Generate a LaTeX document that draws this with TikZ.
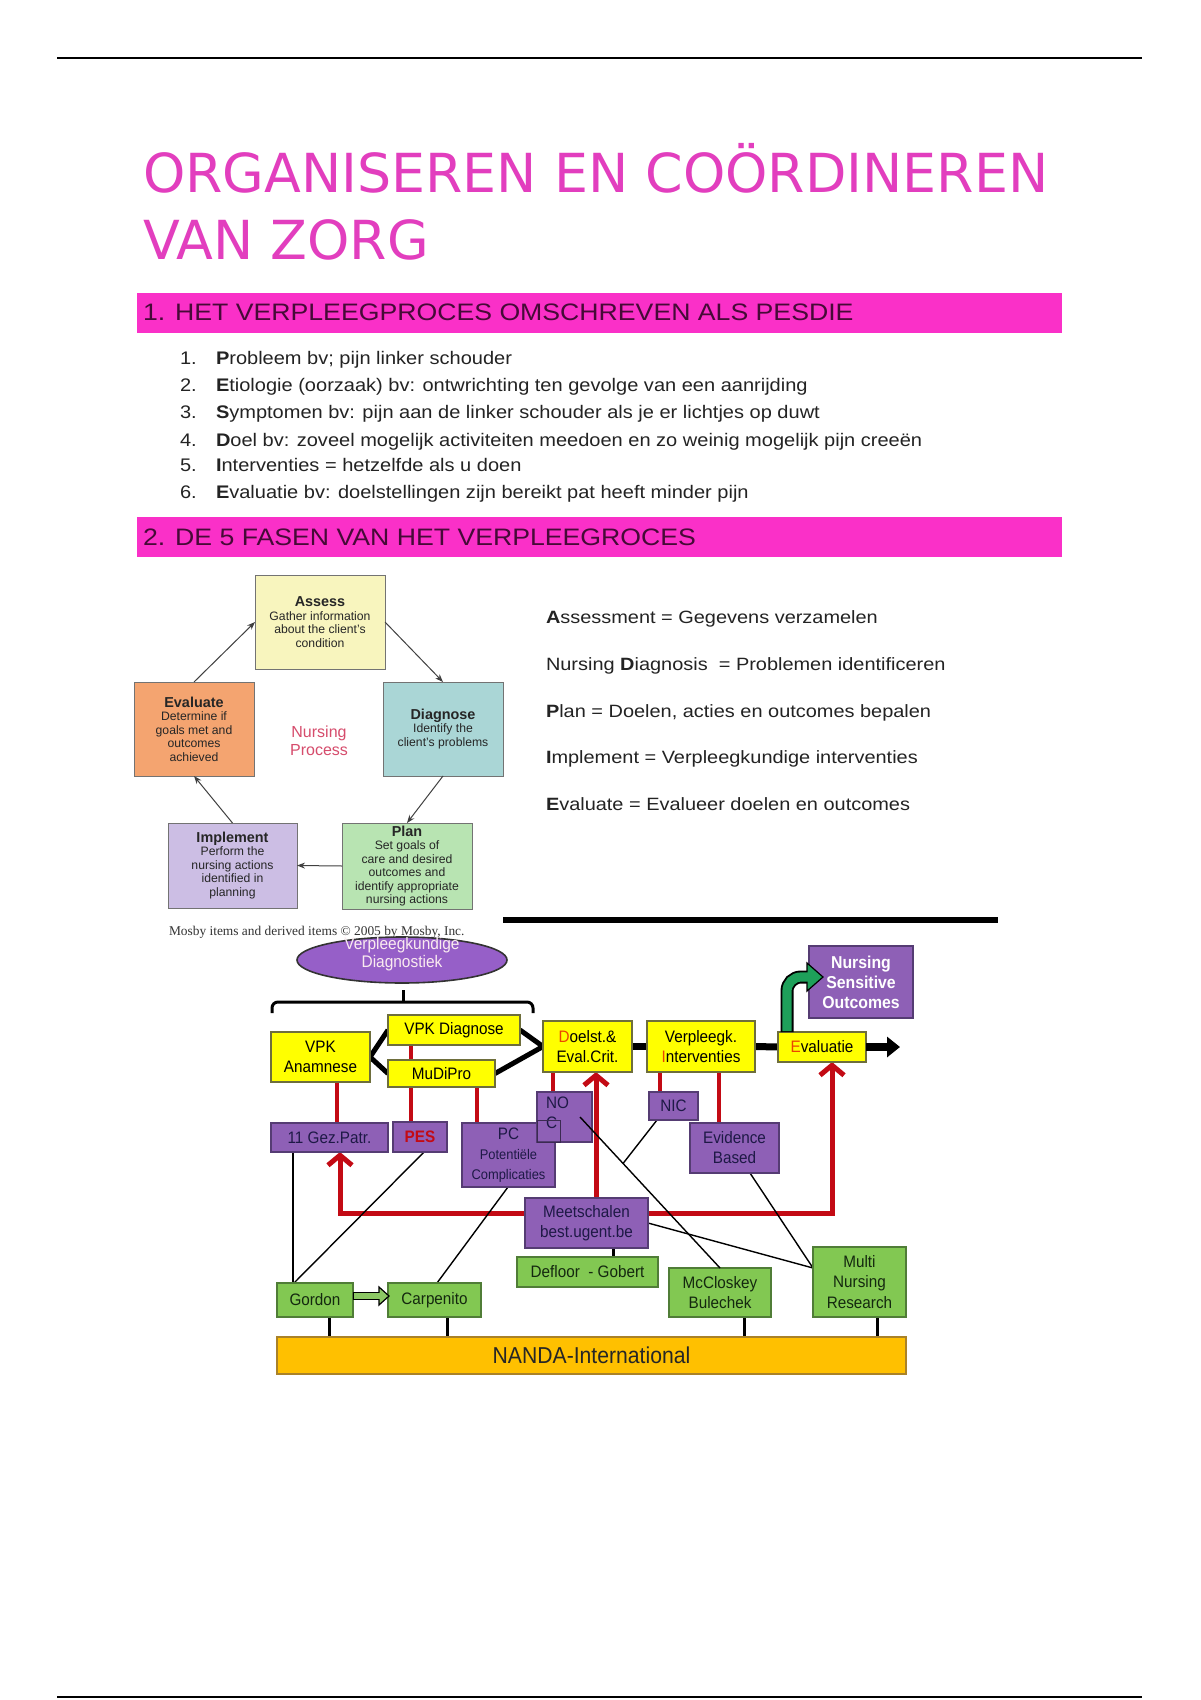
\documentclass[tikz,border=0pt]{standalone}
\usepackage{fontspec}
\setmainfont{Liberation Sans}
\newfontfamily\titlef{DejaVu Sans}
\newfontfamily\widef[FakeStretch=1.12]{Liberation Sans}
\newfontfamily\listf[FakeStretch=1.10]{Liberation Sans}
\newfontfamily\diagf[FakeStretch=0.92]{Liberation Sans}
\newfontfamily\capf{Liberation Serif}
\usetikzlibrary{arrows.meta,calc,shapes.geometric}
\pgfdeclarelayer{bg}
\pgfsetlayers{bg,main}
\definecolor{pinkbar}{RGB}{250,48,200}
\definecolor{ttl}{RGB}{226,62,190}
\definecolor{hdr}{RGB}{70,10,55}
\definecolor{txt}{RGB}{35,35,35}
\definecolor{cyy}{RGB}{248,245,190}
\definecolor{cyd}{RGB}{170,214,214}
\definecolor{cyp}{RGB}{184,228,178}
\definecolor{cyi}{RGB}{204,190,228}
\definecolor{cye}{RGB}{244,164,112}
\definecolor{nproc}{RGB}{214,76,108}
\definecolor{yel}{RGB}{255,255,0}
\definecolor{ybord}{RGB}{110,110,60}
\definecolor{purp}{RGB}{142,96,182}
\definecolor{pbord}{RGB}{85,60,115}
\definecolor{navyt}{RGB}{30,25,70}
\definecolor{grn}{RGB}{130,200,82}
\definecolor{gbord}{RGB}{80,125,55}
\definecolor{dgreen}{RGB}{20,40,15}
\definecolor{nanda}{RGB}{255,192,0}
\definecolor{nbord}{RGB}{170,130,40}
\definecolor{dred}{RGB}{195,10,20}
\definecolor{rl}{RGB}{235,70,0}
\definecolor{gar}{RGB}{30,160,90}
\definecolor{lgar}{RGB}{140,200,100}
\definecolor{ellc}{RGB}{150,95,200}
\newcommand\mybox[7]{\node[#6, minimum width={(#4-#2)*0.5pt}, minimum height={(#5-#3)*0.5pt}] (#1) at ({(#2+#4)/2},{(#3+#5)/2}) {#7};}
\newcommand\cyh{\fontsize{7.2}{7.5}\selectfont\bfseries}
\begin{document}
\begin{tikzpicture}[x=0.5pt,y=-0.5pt,
  every node/.style={inner sep=0pt,outer sep=0pt},
  hbar/.style={fill=pinkbar},
  htext/.style={anchor=base west,font=\widef\fontsize{11.9}{12}\selectfont,text=hdr},
  ltext/.style={anchor=base west,font=\listf\fontsize{9.1}{10}\selectfont,text=txt},
  rtext/.style={anchor=base west,font=\widef\fontsize{8.9}{10}\selectfont,text=txt},
  cbox/.style={draw=black!55,line width=0.5pt,align=center,font=\fontsize{6.1}{6.75}\selectfont,text=black!85},
  cyarrow/.style={draw=black!75,line width=0.5pt,-{Stealth[length=4pt,width=3pt]}},
  ybox/.style={draw=ybord,fill=yel,line width=0.6pt,align=center,font=\diagf\fontsize{8.3}{10.3}\selectfont,text=black},
  pbox/.style={draw=pbord,fill=purp,line width=0.6pt,align=center,font=\diagf\fontsize{8.3}{10}\selectfont,text=navyt},
  gbox/.style={draw=gbord,fill=grn,line width=0.6pt,align=center,font=\diagf\fontsize{8.3}{10.4}\selectfont,text=dgreen},
  redl/.style={draw=dred,line width=2pt},
  reda/.style={draw=dred,line width=2.5pt},
  rtip/.style={-{Straight Barb[length=5pt,width=12pt]}},
  thinln/.style={draw=black,line width=0.7pt},
  stubln/.style={draw=black,line width=1.5pt},
  fatln/.style={draw=black,line width=2.5pt},
]
\useasboundingbox (0,0) rectangle (1200,1700);
\begin{pgfonlayer}{bg}
\fill[white] (0,0) rectangle (1200,1700);
\end{pgfonlayer}

% rules
\coordinate (tr1) at (57,58); \coordinate (tr2) at (1142,58);
\coordinate (br1) at (57,1697); \coordinate (br2) at (1142,1697);
\draw[line width=1.3pt] (tr1) -- (tr2);
\draw[line width=1.3pt] (br1) -- (br2);

% title
\node[anchor=base west,font=\titlef\fontsize{26.9}{30}\selectfont,text=ttl] (t1) at (143,193) {ORGANISEREN EN COÖRDINEREN};
\node[anchor=base west,font=\titlef\fontsize{26.9}{30}\selectfont,text=ttl] (t2) at (143,260) {VAN ZORG};

% header 1
\mybox{h1}{137}{293}{1062}{333}{hbar}{}
\node[htext] (h1t) at (143,321) {1. HET VERPLEEGPROCES OMSCHREVEN ALS PESDIE};
% list
\node[ltext] (n1) at (180,365) {1.}; \node[ltext] (l1) at (216,365) {\textbf{P}robleem bv; pijn linker schouder};
\node[ltext] (n2) at (180,392) {2.}; \node[ltext] (l2) at (216,392) {\textbf{E}tiologie (oorzaak) bv: ontwrichting ten gevolge van een aanrijding};
\node[ltext] (n3) at (180,419) {3.}; \node[ltext] (l3) at (216,419) {\textbf{S}ymptomen bv: pijn aan de linker schouder als je er lichtjes op duwt};
\node[ltext] (n4) at (180,446) {4.}; \node[ltext] (l4) at (216,446) {\textbf{D}oel bv: zoveel mogelijk activiteiten meedoen en zo weinig mogelijk pijn creeën};
\node[ltext] (n5) at (180,472) {5.}; \node[ltext] (l5) at (216,472) {\textbf{I}nterventies = hetzelfde als u doen};
\node[ltext] (n6) at (180,498) {6.}; \node[ltext] (l6) at (216,498) {\textbf{E}valuatie bv: doelstellingen zijn bereikt pat heeft minder pijn};

% header 2
\mybox{h2}{137}{517}{1062}{557}{hbar}{}
\node[htext] (h2t) at (143,545) {2. DE 5 FASEN VAN HET VERPLEEGROCES};

% nursing process cycle
\mybox{as}{255}{575}{385}{669}{cbox,fill=cyy}{{\cyh Assess}\\Gather information\\about the client's\\condition}
\mybox{dg0}{383}{682}{503}{776}{cbox,fill=cyd}{{\cyh Diagnose}\\Identify the\\client's problems}
\mybox{pl}{342}{823}{472}{909}{cbox,fill=cyp}{{\cyh Plan}\\Set goals of\\care and desired\\outcomes and\\identify appropriate\\nursing actions}
\mybox{im}{168}{823}{297}{908}{cbox,fill=cyi}{{\cyh Implement}\\Perform the\\nursing actions\\identified in\\planning}
\mybox{evl}{134}{682}{254}{776}{cbox,fill=cye}{{\cyh Evaluate}\\Determine if\\goals met and\\outcomes\\achieved}
\node[align=center,font=\fontsize{8}{9.2}\selectfont,text=nproc] (np) at (319,741) {Nursing\\Process};
\draw[cyarrow] (evl.north) -- (as.west);
\draw[cyarrow] (as.east) -- (dg0.north);
\draw[cyarrow] (dg0.south) -- (pl.north);
\draw[cyarrow] (pl.west) -- (im.east);
\draw[cyarrow] (im.north) -- (evl.south);
\node[anchor=base west,font=\capf\fontsize{6.7}{8}\selectfont,text=black!80] (mosby) at (169,935) {Mosby items and derived items © 2005 by Mosby, Inc.};

% right list
\node[rtext] (r1) at (546,623) {\textbf{A}ssessment = Gegevens verzamelen};
\node[rtext] (r2) at (546,670) {Nursing \textbf{D}iagnosis\ \ = Problemen identificeren};
\node[rtext] (r3) at (546,717) {\textbf{P}lan = Doelen, acties en outcomes bepalen};
\node[rtext] (r4) at (546,763) {\textbf{I}mplement = Verpleegkundige interventies};
\node[rtext] (r5) at (546,810) {\textbf{E}valuate = Evalueer doelen en outcomes};

% black separator
\coordinate (bl1) at (503,920); \coordinate (bl2) at (998,920);
\draw[line width=2.6pt] (bl1) -- (bl2);

% ---- lower diagram ----
\node[ellipse,draw=black!80,fill=ellc,line width=0.8pt,minimum width=105pt,minimum height=23pt] (vdx) at (402,960) {};
\node[align=center,font=\diagf\fontsize{8.4}{9}\selectfont,text=white!92!purple] (vdxt) at (402,954) {Verpleegkundige\\Diagnostiek};
\coordinate (bk1) at (272,1013); \coordinate (bk2) at (272,1002); \coordinate (bk3) at (533,1002); \coordinate (bk4) at (533,1013);
\coordinate (bkm) at (403,1002); \coordinate (bkt) at (403,990);
\draw[line width=1.5pt,rounded corners=3pt] (bk1) -- (bk2) -- (bk3) -- (bk4);
\draw[line width=1.5pt] (bkm) -- (bkt);

% x reference coordinates
\coordinate (x337) at (337,0); \coordinate (x411) at (411,0); \coordinate (x477) at (477,0);
\coordinate (x553) at (553,0); \coordinate (x596) at (596,0); \coordinate (x660) at (660,0);
\coordinate (x719) at (719,0); \coordinate (x293) at (293,0); \coordinate (x294) at (294,0);
\coordinate (x424) at (424,0); \coordinate (x508) at (508,0); \coordinate (x437) at (437,0);
\coordinate (x657) at (657,0); \coordinate (x750) at (750,0); \coordinate (x613) at (613,0);
\coordinate (x329) at (329,0); \coordinate (x447) at (447,0); \coordinate (x744) at (744,0);
\coordinate (x877) at (877,0); \coordinate (x787) at (787,0);

% yellow boxes
\mybox{an}{271}{1032}{370}{1082}{ybox}{VPK\\Anamnese}
\mybox{vd}{388}{1015}{520}{1045}{ybox}{VPK Diagnose}
\mybox{mu}{388}{1060}{495}{1087}{ybox}{MuDiPro}
\mybox{de}{543}{1021}{632}{1072}{ybox}{{\color{rl}D}oelst.\&\\Eval.Crit.}
\mybox{vi}{647}{1021}{755}{1072}{ybox}{Verpleegk.\\{\color{rl}I}nterventies}
\mybox{ev2}{778}{1032}{866}{1062}{ybox}{{\color{rl}E}valuatie}

% purple boxes
\mybox{nso}{809}{946}{913}{1018}{pbox,text=white,font=\diagf\bfseries\fontsize{8.6}{10}\selectfont}{Nursing\\Sensitive\\Outcomes}
\mybox{gp}{271}{1123}{388}{1152}{pbox}{11 Gez.Patr.}
\mybox{pes}{393}{1122}{447}{1152}{pbox,text=dred}{\textbf{PES}}
\mybox{pc}{462}{1123}{555}{1187}{pbox}{PC\\{\fontsize{7}{8.6}\selectfont Potentiële}\\{\fontsize{7}{8.6}\selectfont Complicaties}}
\mybox{noc}{537}{1092}{592}{1142}{pbox}{}
\node[anchor=north west,align=left,font=\diagf\fontsize{8.3}{10}\selectfont,text=navyt] (noct) at (546,1097) {NO\\C};
\coordinate (nr1) at (537,1120); \coordinate (nr2) at (560,1142);
\draw[pbord!70!black,line width=0.5pt] (nr1) rectangle (nr2);
\mybox{nic}{649}{1092}{698}{1120}{pbox}{NIC}
\mybox{eb}{690}{1123}{779}{1173}{pbox}{Evidence\\Based}
\mybox{me}{525}{1198}{648}{1248}{pbox}{Meetschalen\\best.ugent.be}

% green boxes
\mybox{dfg}{517}{1257}{658}{1287}{gbox}{Defloor \ - Gobert}
\mybox{go}{277}{1283}{353}{1317}{gbox}{Gordon}
\mybox{ca}{388}{1283}{481}{1317}{gbox}{Carpenito}
\mybox{mb}{669}{1268}{771}{1317}{gbox}{McCloskey\\Bulechek}
\mybox{mn}{813}{1247}{906}{1317}{gbox}{Multi\\Nursing\\Research}
\mybox{na}{277}{1337}{906}{1374}{draw=nbord,fill=nanda,line width=0.6pt,font=\diagf\fontsize{11.5}{12}\selectfont,text=black!85}{NANDA-International}

\coordinate (nocp) at (580,1117);
\coordinate (j1) at (623,1163.5);
\coordinate (mnp) at (813,1268);
\coordinate (rc1) at (340,1213); \coordinate (rc2) at (832,1213);
\coordinate (rcm) at (596,1213);
\coordinate (evend) at (900,1047);

\begin{pgfonlayer}{bg}
% thick black connectors between yellow boxes
\draw[fatln] (vd.west) -- (an.east) -- (mu.west);
\draw[fatln] (vd.east) -- (de.west) -- (mu.east);
\draw[draw=black,line width=3.5pt] (de.east) -- (vi.west);
\draw[draw=black,line width=3.5pt] (vi.east) -- (ev2.west);
% red stubs
\draw[redl] (an.south -| x337) -- (gp.north -| x337);
\draw[redl] (vd.south -| x411) -- (pes.north -| x411);
\draw[redl] (mu.south -| x477) -- (pc.north -| x477);
\draw[redl] (de.south -| x553) -- (noc.north -| x553);
\draw[redl] (vi.south -| x660) -- (nic.north -| x660);
\draw[redl] (vi.south -| x719) -- (eb.north -| x719);
% red arrow network
\draw[reda,rtip] (rcm) -- (de.south -| x596);
\draw[reda,{Straight Barb[length=5pt,width=12pt]}-{Straight Barb[length=5pt,width=12pt]}] (gp.south -| rc1) -- (rc1) -- (rc2) -- (ev2.south -| rc2);
% stubs to NANDA and Defloor
\draw[stubln] (me.south -| x613) -- (dfg.north -| x613);
\draw[stubln] (go.south -| x329) -- (na.north -| x329);
\draw[stubln] (ca.south -| x447) -- (na.north -| x447);
\draw[stubln] (mb.south -| x744) -- (na.north -| x744);
\draw[stubln] (mn.south -| x877) -- (na.north -| x877);
% thin black connectors
\draw[thinln] (gp.south -| x293) -- (go.north -| x293);
\draw[thinln] (pes.south -| x424) -- (go.north -| x294);
\draw[thinln] (pc.south -| x508) -- (ca.north -| x437);
\draw[thinln] (nic.south -| x657) -- (j1);
\draw[thinln] (eb.south -| x750) -- (mnp);
\draw[thinln] (me.east) -- (mnp);
\end{pgfonlayer}

\draw[thinln] (nocp) -- (mb.north);
\draw[draw=black,line width=4pt,-{Triangle[length=6.5pt,width=10pt]}] (ev2.east) -- (evend);

% Gordon -> Carpenito hollow arrow
\coordinate (ga1) at (353,1296); \coordinate (ga2) at (380,1296);
\draw[black,line width=4.4pt] (ga1) -- (ga2);
\coordinate (gh1) at (379,1287); \coordinate (gh2) at (389,1296); \coordinate (gh3) at (379,1305);
\filldraw[fill=lgar,draw=black,line width=0.6pt] (gh1) -- (gh2) -- (gh3) -- cycle;
\coordinate (ga3) at (354,1296); \coordinate (ga4) at (381,1296);
\draw[lgar,line width=2.6pt] (ga3) -- (ga4);

% green bent arrow to Nursing Sensitive Outcomes
\coordinate (gc) at (787,977); \coordinate (gt) at (809,977);
\draw[black,line width=6.5pt,rounded corners=7pt] (ev2.north -| x787) -- (gc) -- (gt);
\coordinate (hh1) at (807,963); \coordinate (hh2) at (823,977); \coordinate (hh3) at (807,991);
\filldraw[fill=gar,draw=black,line width=0.6pt] (hh1) -- (hh2) -- (hh3) -- cycle;
\coordinate (gb) at (787,1031);\coordinate (gt2) at (811,977);
\draw[gar,line width=4.6pt,rounded corners=7pt] (gb) -- (gc) -- (gt2);
\end{tikzpicture}
\end{document}
